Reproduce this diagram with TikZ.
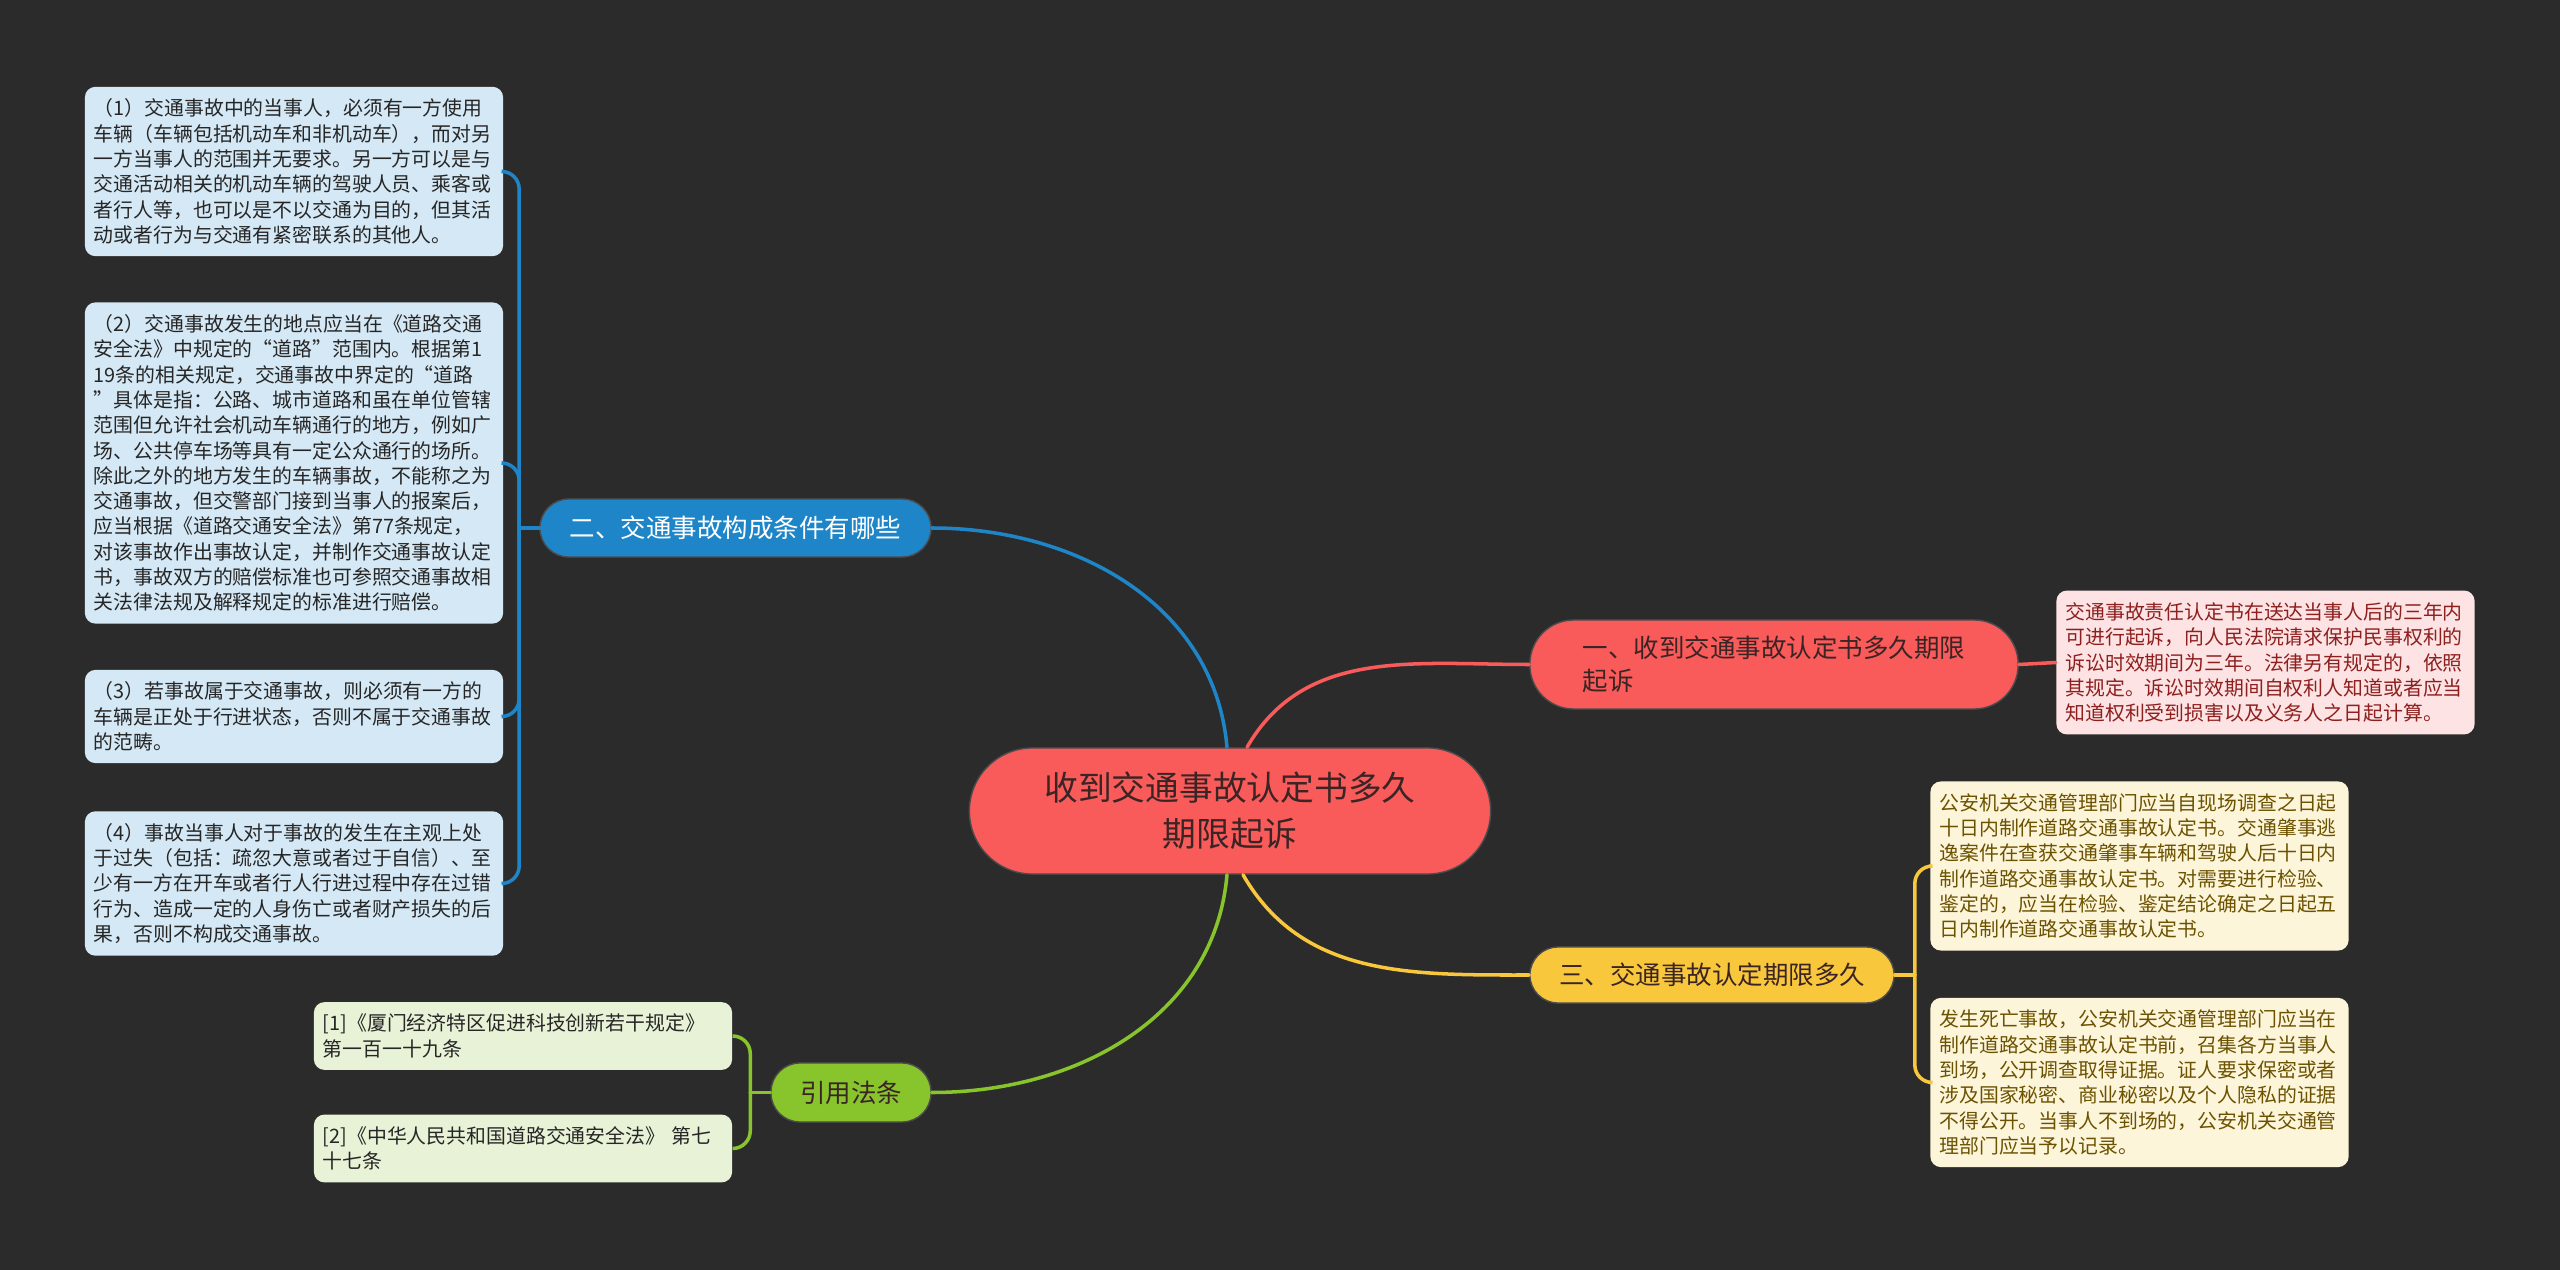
\documentclass[tikz,border=0pt]{standalone}
\usepackage{fontspec}
\setmainfont{Noto Sans CJK SC}
\usetikzlibrary{calc,positioning}
\definecolor{bgDark}     {HTML}{2B2B2B}
\definecolor{rootRed}    {HTML}{F95A5A}
\definecolor{inkDark}    {HTML}{3A2424}
\definecolor{topicBlue}  {HTML}{1E86C8}
\definecolor{noteBlue}   {HTML}{D4E8F5}
\definecolor{topicYellow}{HTML}{F8C73C}
\definecolor{noteYellow} {HTML}{FDF5DA}
\definecolor{inkYellow}  {HTML}{6B5200}
\definecolor{topicGreen} {HTML}{88C42C}
\definecolor{noteGreen}  {HTML}{E7F2D6}
\definecolor{notePink}   {HTML}{FDE3E3}
\definecolor{inkRed}     {HTML}{8E1F1F}
\tikzset{
  link/.style={line width=1pt,line cap=round},
  rootnode/.style={rectangle,rounded corners=0.63cm,draw=black!70,line width=0.4pt,fill=rootRed,text=inkDark,
    minimum width=5.21cm,minimum height=1.26cm,align=center,font=\fontsize{9.6}{13.1}\selectfont},
  topic/.style={rectangle,draw=black!70,line width=0.4pt,inner sep=0pt,align=left,
    font=\fontsize{7.25}{9.3}\selectfont},
  note/.style={rectangle,rounded corners=3pt,draw=none,text width=4.0cm,inner xsep=0.09cm,inner ysep=0.12cm,
    align=left,font=\fontsize{5.65}{7.2}\selectfont},
}

\begin{document}
\begin{tikzpicture}[x=0.01cm,y=-0.01cm]

\fill[bgDark] (0,0) rectangle (2560,1270);

\node[rootnode] (root) at (1230,811) {收到交通事故认定书多久\\期限起诉};

% main topics
\node[topic,fill=topicBlue,text=white,rounded corners=0.29cm,minimum width=3.91cm,minimum height=0.58cm]
  (b2) at (735.5,528) {二、交通事故构成条件有哪些};
\node[topic,fill=rootRed,text=inkDark,rounded corners=0.44cm,minimum width=4.88cm,minimum height=0.89cm]
  (b1) at (1774,664.5) {一、收到交通事故认定书多久期限\\起诉};
\node[topic,fill=topicYellow,text=inkDark,rounded corners=0.28cm,minimum width=3.64cm,minimum height=0.56cm]
  (b3) at (1712,975) {三、交通事故认定期限多久};
\node[topic,fill=topicGreen,text=inkDark,rounded corners=0.29cm,minimum width=1.60cm,minimum height=0.59cm]
  (b4) at (851,1092.5) {引用法条};

\coordinate (rootUpL) at ($(root.north)+(-3,0)$);
\coordinate (rootUpR) at ($(root.north)+(17,0)$);
\coordinate (rootDnL) at ($(root.south)+(-3,0)$);
\coordinate (rootDnR) at ($(root.south)+(13,0)$);

\draw[link,draw=topicBlue]   (rootUpL) to[out=95,in=0] (b2.east);
\draw[link,draw=rootRed]     (rootUpR) to[out=60,in=180] (b1.west);
\draw[link,draw=topicYellow] (rootDnR) to[out=-60,in=180] (b3.west);
\draw[link,draw=topicGreen]  (rootDnL) to[out=-95,in=0] (b4.east);

% notes, left
\node[note,fill=noteBlue,text=black!85] (c1) at (294,171.5) {%
（1）交通事故中的当事人，必须有一方使用\\
车辆（车辆包括机动车和非机动车），而对另\\
一方当事人的范围并无要求。另一方可以是与\\
交通活动相关的机动车辆的驾驶人员、乘客或\\
者行人等，也可以是不以交通为目的，但其活\\
动或者行为与交通有紧密联系的其他人。};
\node[note,fill=noteBlue,text=black!85] (c2) at (294,463) {%
（2）交通事故发生的地点应当在《道路交通\\
安全法》中规定的“道路”范围内。根据第1\\
19条的相关规定，交通事故中界定的“道路\\
”具体是指：公路、城市道路和虽在单位管辖\\
范围但允许社会机动车辆通行的地方，例如广\\
场、公共停车场等具有一定公众通行的场所。\\
除此之外的地方发生的车辆事故，不能称之为\\
交通事故，但交警部门接到当事人的报案后，\\
应当根据《道路交通安全法》第77条规定，\\
对该事故作出事故认定，并制作交通事故认定\\
书，事故双方的赔偿标准也可参照交通事故相\\
关法律法规及解释规定的标准进行赔偿。};
\node[note,fill=noteBlue,text=black!85] (c3) at (294,716.5) {%
（3）若事故属于交通事故，则必须有一方的\\
车辆是正处于行进状态，否则不属于交通事故\\
的范畴。};
\node[note,fill=noteBlue,text=black!85] (c4) at (294,883.5) {%
（4）事故当事人对于事故的发生在主观上处\\
于过失（包括：疏忽大意或者过于自信）、至\\
少有一方在开车或者行人行进过程中存在过错\\
行为、造成一定的人身伤亡或者财产损失的后\\
果，否则不构成交通事故。};

\node[note,fill=noteGreen,text=black!85] (g1) at (523,1036) {%
[1]《厦门经济特区促进科技创新若干规定》\\
第一百一十九条};
\node[note,fill=noteGreen,text=black!85] (g2) at (523,1148.5) {%
[2]《中华人民共和国道路交通安全法》 第七\\
十七条};

% notes, right
\node[note,fill=notePink,text=inkRed] (t1) at (2265.5,662.5) {%
交通事故责任认定书在送达当事人后的三年内\\
可进行起诉，向人民法院请求保护民事权利的\\
诉讼时效期间为三年。法律另有规定的，依照\\
其规定。诉讼时效期间自权利人知道或者应当\\
知道权利受到损害以及义务人之日起计算。};

\node[note,fill=noteYellow,text=inkYellow] (y1) at (2139.5,866) {%
公安机关交通管理部门应当自现场调查之日起\\
十日内制作道路交通事故认定书。交通肇事逃\\
逸案件在查获交通肇事车辆和驾驶人后十日内\\
制作道路交通事故认定书。对需要进行检验、\\
鉴定的，应当在检验、鉴定结论确定之日起五\\
日内制作道路交通事故认定书。};
\node[note,fill=noteYellow,text=inkYellow] (y2) at (2139.5,1082.5) {%
发生死亡事故，公安机关交通管理部门应当在\\
制作道路交通事故认定书前，召集各方当事人\\
到场，公开调查取得证据。证人要求保密或者\\
涉及国家秘密、商业秘密以及个人隐私的证据\\
不得公开。当事人不到场的，公安机关交通管\\
理部门应当予以记录。};

% brackets to the notes
\coordinate (spineB) at ($(b2.west)+(-20,0)$);
\coordinate (spineG) at ($(b4.west)+(-20,0)$);
\coordinate (spineY) at ($(b3.east)+(20,0)$);

\draw[link,draw=topicBlue] (b2.west) -- (spineB);
\foreach \n in {c1,c2,c3,c4}
  \draw[link,draw=topicBlue,rounded corners=5pt] (spineB) |- (\n.east);

\draw[link,draw=topicGreen] (b4.west) -- (spineG);
\foreach \n in {g1,g2}
  \draw[link,draw=topicGreen,rounded corners=5pt] (spineG) |- (\n.east);

\draw[link,draw=topicYellow] (b3.east) -- (spineY);
\foreach \n in {y1,y2}
  \draw[link,draw=topicYellow,rounded corners=5pt] (spineY) |- (\n.west);

\draw[link,draw=rootRed] (b1.east) -- (t1.west);

\end{tikzpicture}
\end{document}
